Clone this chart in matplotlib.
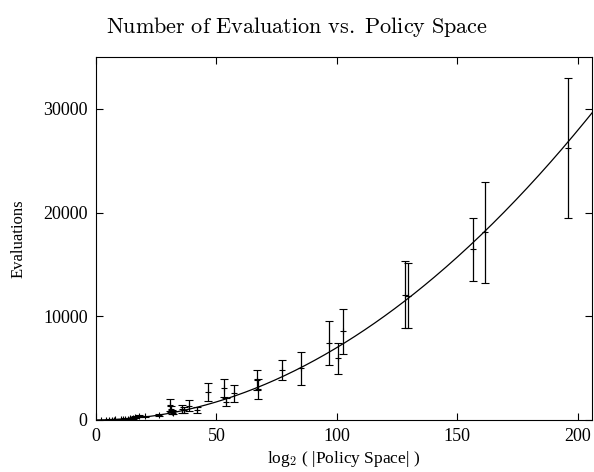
import numpy as np
import matplotlib.pyplot as plt

plt.rcParams["mathtext.fontset"] = "cm"
plt.rcParams["font.family"] = "Liberation Serif"

# log2 of policy space size, mean evaluations and error half-widths
policy_bits = [2.0, 4.0, 5.5, 6.6, 7.5, 8.0, 10.5, 11.3, 12.2, 13.3, 14.2,
               15.2, 16.3, 17.7, 20.5, 26.0, 30.8, 31.2, 31.5, 32.0, 35.8,
               36.6, 38.6, 41.9, 46.6, 53.1, 54.0, 57.2, 66.7, 67.3, 77.2,
               85.1, 96.7, 100.4, 102.6, 128.2, 129.5, 156.4, 161.4, 196.0]
evaluations = [10, 20, 30, 40, 45, 50, 90, 100, 120, 140, 170,
               200, 290, 370, 350, 500, 1440, 1030, 800, 700, 1060,
               960, 1380, 960, 2720, 3110, 1760, 2560, 3850, 2950, 4810,
               5000, 7400, 5960, 8560, 12100, 12000, 16440, 18080, 26250]
errors = [20, 20, 30, 30, 30, 30, 40, 40, 50, 50, 60,
          60, 80, 80, 80, 100, 550, 300, 200, 150, 350,
          250, 500, 300, 850, 850, 400, 780, 1000, 960, 960,
          1600, 2100, 1500, 2150, 3220, 3150, 3030, 4850, 6730]

x = np.array(policy_bits)
y = np.array(evaluations)
# least squares fit of y = c * x^2
c = np.sum(x**2 * y) / np.sum(x**4)
xs = np.linspace(0, 206, 300)

fig = plt.figure(figsize=(5.94, 4.72), dpi=100)
ax = fig.add_axes([0.1616, 0.1102, 0.835, 0.769])

ax.plot(xs, c * xs**2, color="black", linewidth=0.9)
ax.errorbar(x, y, yerr=errors, fmt="+", color="black", ms=5, mew=0.8,
            elinewidth=0.9, capsize=3, capthick=0.9)

ax.set_xlim(0, 206)
ax.set_ylim(0, 35000)
ax.set_xticks([0, 50, 100, 150, 200])
ax.set_yticks([0, 10000, 20000, 30000])
ax.tick_params(direction="in", top=True, right=True, length=5, labelsize=13,
               width=0.8, pad=6)
for s in ax.spines.values():
    s.set_linewidth(0.8)

ax.set_xlabel("log$_2$ ( |Policy Space| )", fontsize=12.5, labelpad=3)
ax.set_ylabel("Evaluations", fontsize=12, labelpad=12)
fig.text(0.5, 0.943, r"$\mathrm{Number\ of\ Evaluation\ vs.\ Policy\ Space}$",
         ha="center", va="center", fontsize=16)

fig.savefig("out.png", dpi=100)
